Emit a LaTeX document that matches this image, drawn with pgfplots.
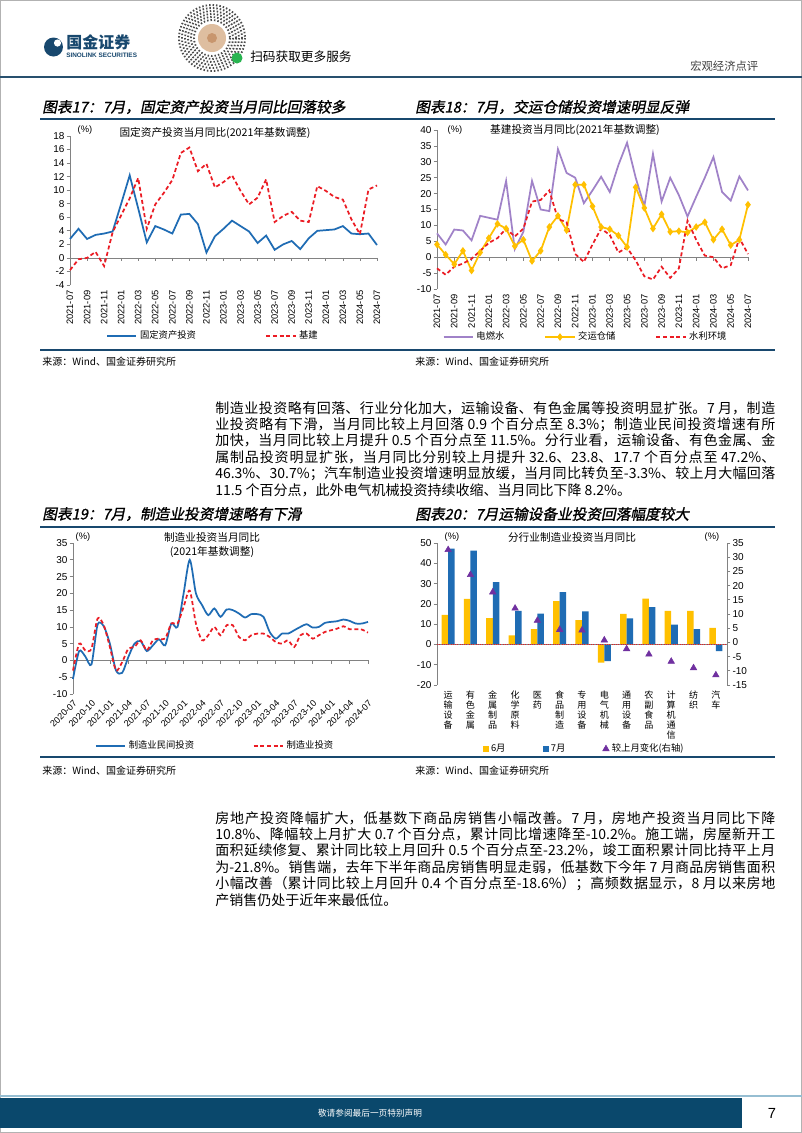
\documentclass[border=0pt]{standalone}
\usepackage{fontspec}
\setmainfont{Liberation Sans}
\newfontfamily\cjk{Noto Sans CJK SC}
\newfontfamily\cjkt[FakeSlant=0.2,FakeBold=1.2]{Noto Sans CJK SC}
\usepackage{pgfplots}
\usepackage{pgfplotstable}
\pgfplotsset{compat=1.18}
\XeTeXlinebreaklocale "zh"
\XeTeXlinebreakskip=0pt plus 2pt

\definecolor{cblue}{RGB}{31,108,180}
\definecolor{cred}{RGB}{235,28,36}
\definecolor{cpurple}{RGB}{160,130,200}
\definecolor{cyellow}{RGB}{255,192,0}
\definecolor{ctri}{RGB}{112,48,160}
\definecolor{navy}{RGB}{24,72,110}
\definecolor{axgray}{RGB}{130,130,130}
\definecolor{foot}{RGB}{10,72,108}
\definecolor{qrtan}{RGB}{222,190,160}
\definecolor{qrbrown}{RGB}{200,150,110}
\definecolor{qrgreen}{RGB}{40,180,80}
\definecolor{hdrline}{RGB}{40,80,110}
\definecolor{footline}{RGB}{150,190,210}

\pgfplotstableread{
i fai infra
0 2.8 -1.8
1 4.3 -0.2
2 2.8 0.0
3 3.4 0.9
4 3.6 -1.2
5 3.9 3.8
6 8.0 6.3
7 12.2 8.8
8 7.3 11.8
9 2.3 4.3
10 4.7 7.9
11 4.2 9.6
12 3.6 11.5
13 6.4 15.5
14 6.5 16.3
15 5.0 12.8
16 0.8 13.9
17 3.2 10.4
18 4.3 11.2
19 5.5 12.2
20 4.7 9.9
21 3.9 7.9
22 2.2 8.9
23 3.3 11.6
24 1.2 5.3
25 2.0 6.2
26 2.5 6.8
27 1.3 5.5
28 2.9 5.3
29 4.0 10.6
30 4.1 9.9
31 4.2 9.0
32 4.7 8.6
33 3.6 5.7
34 3.5 3.5
35 3.6 10.1
36 1.9 10.7
}\tabA

\pgfplotstableread{
i pw tr wa
0 7.5 4.0 -3.5
1 4.0 0.8 -5.5
2 8.7 -2.2 -3.0
3 8.4 2.0 -2.0
4 5.3 -4.2 -0.5
5 13.0 1.5 2.0
6 12.4 6.0 4.5
7 11.8 10.5 6.0
8 24.0 9.0 9.0
9 2.5 3.5 6.5
10 8.0 5.5 9.0
11 24.0 -1.2 17.5
12 15.0 2.0 18.0
13 14.5 9.5 21.0
14 34.0 13.0 12.0
15 26.5 8.5 11.0
16 25.0 22.8 1.0
17 17.0 22.8 -1.5
18 21.0 16.0 4.0
19 25.3 9.5 9.0
20 20.5 8.8 7.0
21 29.0 6.8 1.5
22 36.0 3.2 3.0
23 25.0 22.0 -1.0
24 16.0 15.5 -6.0
25 32.5 9.0 -7.0
26 17.5 13.5 -3.0
27 25.0 8.0 -6.5
28 19.5 8.2 -3.5
29 12.8 7.8 11.5
30 19.0 9.5 5.5
31 25.0 11.0 0.5
32 31.5 5.5 0.0
33 20.5 8.8 -3.5
34 17.8 3.8 -2.5
35 25.4 5.5 6.0
36 21.0 16.5 1.0
}\tabB

\pgfplotstableread{
i pri mfg
0 -5.5 -3.0
1 2.8 5.0
2 1.2 3.0
3 -1.2 3.5
4 10.7 12.5
5 10.2 10.5
6 5.0 4.0
7 -3.0 -3.0
8 -3.7 -0.5
9 1.0 3.5
10 5.0 4.0
11 5.8 6.0
12 2.8 3.0
13 4.5 6.0
14 6.3 6.5
15 4.5 6.5
16 11.0 11.0
17 10.0 11.0
18 20.0 16.0
19 30.0 20.8
20 20.0 11.0
21 16.5 6.0
22 13.5 7.5
23 15.5 10.0
24 13.0 7.5
25 15.2 10.5
26 15.0 10.5
27 14.0 7.0
28 12.8 6.0
29 13.8 7.5
30 13.8 8.0
31 13.0 8.0
32 8.5 7.0
33 6.5 5.5
34 8.0 5.0
35 8.0 6.0
36 9.0 4.0
37 10.0 7.5
38 10.8 8.0
39 9.8 6.5
40 10.0 7.5
41 11.2 8.5
42 11.5 9.0
43 11.7 9.5
44 12.2 10.2
45 11.8 9.3
46 11.0 9.3
47 11.0 9.2
48 11.5 8.3
}\tabC

\pgfplotstableread{
i jun jul chg
0 14.6 47.2 32.6
1 22.5 46.3 23.8
2 13.0 30.7 17.7
3 4.5 16.5 12.0
4 7.5 15.2 7.7
5 21.3 25.8 4.5
6 12.0 16.3 4.3
7 -9.0 -8.2 0.8
8 15.1 12.8 -2.3
9 22.6 18.4 -4.2
10 16.5 9.8 -6.7
11 16.6 7.6 -9.0
12 8.2 -3.3 -11.5
}\tabD

\pgfplotsset{
  pg/.style={scale only axis, anchor=south west,
    axis line style={draw=axgray},
    tick style={draw=axgray, line width=0.5pt},
    tick align=outside, major tick length=2.5pt,
    axis y line*=left, axis x line*=bottom,
    x axis line style={draw=none}, xtick style={draw=none},
    yticklabel style={font=\fontsize{7.5}{8}\selectfont, inner sep=1.5pt},
    xticklabel style={font=\fontsize{7}{8}\selectfont, inner sep=1.5pt},
    /pgf/number format/assume math mode=true,
    clip=false,
    legend style={draw=none, fill=none, font=\fontsize{7}{8}\selectfont\cjk, legend columns=-1, anchor=center, inner sep=1pt},
    legend cell align=left,
    legend image code/.code={\draw[mark repeat=2,mark phase=2,##1] plot coordinates {(0pt,0pt) (11pt,0pt) (22pt,0pt)};},
  },
  sqlegend/.style={legend image code/.code={\draw[##1] plot coordinates {(3pt,0pt)};}},
  monthsA/.style={xmin=0, xmax=36, xtick={0,2,...,36},
    xticklabels={2021-07,2021-09,2021-11,2022-01,2022-03,2022-05,2022-07,2022-09,2022-11,2023-01,2023-03,2023-05,2023-07,2023-09,2023-11,2024-01,2024-03,2024-05,2024-07},
    xticklabel style={rotate=90, anchor=east}},
}

\begin{document}
\begin{tikzpicture}
\useasboundingbox (0pt,0pt) rectangle (601.5pt,-849.75pt);
\begin{scope}[x=0.75pt,y=-0.75pt]
\fill[white] (0,0) rectangle (802,1133);
\draw[gray!60, line width=0.6pt] (0.4,0.4) rectangle (801.6,1132.6);
% header
\fill[navy] (53.5,47) circle (9.5);
\fill[white] (57.5,43) circle (3.6);
\node[anchor=west, inner sep=0pt, text=navy, font=\fontsize{12}{12}\selectfont\cjk\bfseries] at (66,42) {国金证券};
\node[anchor=west, inner sep=0pt, text=navy, font=\fontsize{4.8}{5}\selectfont\bfseries] at (66,55) {SINOLINK SECURITIES};
\foreach \r in {18,21,...,33} {\draw[black!70, line width=1.4pt, dash pattern=on 1.1pt off 1.5pt] (212,38) circle (\r);}
\fill[white] (212,38) circle (16);
\fill[qrtan] (212,38) circle (14);
\fill[qrbrown] (212,38) circle (5);
\fill[qrgreen] (237,58) circle (5.5);
\node[anchor=west, inner sep=0pt, font=\fontsize{9.5}{10}\selectfont\cjk] at (250,57) {扫码获取更多服务};
\node[anchor=west, inner sep=0pt, text=black!75, font=\fontsize{8.5}{9}\selectfont\cjk] at (690,66) {宏观经济点评};
\draw[hdrline, line width=1pt] (0,77) -- (802,77);
% section titles
\node[anchor=west, inner sep=0pt, font=\fontsize{11}{11}\selectfont\cjkt] at (42,107) {图表17：7月，固定资产投资当月同比回落较多};
\node[anchor=west, inner sep=0pt, font=\fontsize{11}{11}\selectfont\cjkt] at (415,107) {图表18：7月，交运仓储投资增速明显反弹};
\draw[navy, line width=1.2pt] (40,119) -- (775,119);
\draw[navy, line width=1.2pt] (40,350) -- (775,350);
\node[anchor=west, inner sep=0pt, font=\fontsize{7.5}{8}\selectfont\cjk] at (42,362) {来源：Wind、国金证券研究所};
\node[anchor=west, inner sep=0pt, font=\fontsize{7.5}{8}\selectfont\cjk] at (415,362) {来源：Wind、国金证券研究所};
% chart inner titles
\node[font=\fontsize{7}{8}\selectfont] at (85,130) {(\%)};
\node[font=\fontsize{8}{9}\selectfont\cjk] at (215,133) {固定资产投资当月同比(2021年基数调整)};
\node[font=\fontsize{7}{8}\selectfont] at (455,130) {(\%)};
\node[font=\fontsize{8}{9}\selectfont\cjk] at (575,130) {基建投资当月同比(2021年基数调整)};
% paragraph 1
\node[anchor=north west, inner sep=0pt, text width=420pt, align=justify, font=\fontsize{10.5}{12.3}\selectfont\cjk] at (215,401) {制造业投资略有回落、行业分化加大，运输设备、有色金属等投资明显扩张。7 月，制造\linebreak 业投资略有下滑，当月同比较上月回落 0.9 个百分点至 8.3\%；制造业民间投资增速有所\linebreak 加快，当月同比较上月提升 0.5 个百分点至 11.5\%。分行业看，运输设备、有色金属、金\linebreak 属制品投资明显扩张，当月同比分别较上月提升 32.6、23.8、17.7 个百分点至 47.2\%、\linebreak 46.3\%、30.7\%；汽车制造业投资增速明显放缓，当月同比转负至-3.3\%、较上月大幅回落\linebreak 11.5 个百分点，此外电气机械投资持续收缩、当月同比下降 8.2\%。};
% second row
\node[anchor=west, inner sep=0pt, font=\fontsize{11}{11}\selectfont\cjkt] at (42,514) {图表19：7月，制造业投资增速略有下滑};
\node[anchor=west, inner sep=0pt, font=\fontsize{11}{11}\selectfont\cjkt] at (415,514) {图表20：7月运输设备业投资回落幅度较大};
\draw[navy, line width=1.2pt] (40,527) -- (775,527);
\draw[navy, line width=1.2pt] (40,757) -- (775,757);
\node[anchor=west, inner sep=0pt, font=\fontsize{7.5}{8}\selectfont\cjk] at (42,771) {来源：Wind、国金证券研究所};
\node[anchor=west, inner sep=0pt, font=\fontsize{7.5}{8}\selectfont\cjk] at (415,771) {来源：Wind、国金证券研究所};
\node[font=\fontsize{7}{8}\selectfont] at (83,537) {(\%)};
\node[font=\fontsize{8}{9}\selectfont\cjk] at (212,537) {制造业投资当月同比};
\node[font=\fontsize{8}{9}\selectfont\cjk] at (212,552) {(2021年基数调整)};
\node[font=\fontsize{7}{8}\selectfont] at (452,537) {(\%)};
\node[font=\fontsize{7}{8}\selectfont] at (712,537) {(\%)};
\node[font=\fontsize{8}{9}\selectfont\cjk] at (572,537) {分行业制造业投资当月同比};
% paragraph 2
\node[anchor=north west, inner sep=0pt, text width=420pt, align=justify, font=\fontsize{10.5}{12.3}\selectfont\cjk] at (215,811) {房地产投资降幅扩大，低基数下商品房销售小幅改善。7 月，房地产投资当月同比下降\linebreak 10.8\%、降幅较上月扩大 0.7 个百分点，累计同比增速降至-10.2\%。施工端，房屋新开工\linebreak 面积延续修复、累计同比较上月回升 0.5 个百分点至-23.2\%，竣工面积累计同比持平上月\linebreak 为-21.8\%。销售端，去年下半年商品房销售明显走弱，低基数下今年 7 月商品房销售面积\linebreak 小幅改善（累计同比较上月回升 0.4 个百分点至-18.6\%）；高频数据显示，8 月以来房地\linebreak 产销售仍处于近年来最低位。};
% footer
\draw[footline, line width=0.8pt] (0,1096) -- (802,1096);
\fill[foot] (0,1098) rectangle (742,1128);
\node[text=white, font=\fontsize{6.5}{7}\selectfont\cjk] at (370,1113) {敬请参阅最后一页特别声明};
\node[font=\fontsize{11}{11}\selectfont] at (772,1113) {7};
\end{scope}

% ---------- Chart 17 ----------
\begin{axis}[pg, monthsA, at={(52.5pt,-213.75pt)}, width=230.25pt, height=111.75pt,
  ymin=-4, ymax=18, ytick={-4,-2,...,18},
  legend style={at={(0.467,-0.342)}, /tikz/every even column/.append style={column sep=50pt}}]
\draw[axgray, line width=0.5pt] (axis cs:0,0) -- (axis cs:36,0);
\pgfplotsinvokeforeach{0,2,...,36}{\draw[axgray, line width=0.5pt] (axis cs:#1,0) -- ([yshift=-2.5pt]axis cs:#1,0);}
\addplot[cblue, line width=1.3pt] table[x=i, y=fai] {\tabA};
\addlegendentry{固定资产投资}
\addplot[cred, line width=1.3pt, dash pattern=on 3pt off 2pt] table[x=i, y=infra] {\tabA};
\addlegendentry{基建}
\end{axis}

% ---------- Chart 18 ----------
\begin{axis}[pg, monthsA, at={(327.75pt,-216.75pt)}, width=233.25pt, height=119.25pt,
  ymin=-10, ymax=40, ytick={-10,-5,...,40},
  legend style={at={(0.479,-0.302)}, /tikz/every even column/.append style={column sep=28pt}}]
\draw[axgray, line width=0.5pt] (axis cs:0,0) -- (axis cs:36,0);
\pgfplotsinvokeforeach{0,2,...,36}{\draw[axgray, line width=0.5pt] (axis cs:#1,0) -- ([yshift=-2.5pt]axis cs:#1,0);}
\addplot[cpurple, line width=1.3pt] table[x=i, y=pw] {\tabB};
\addlegendentry{电燃水}
\addplot[cyellow, line width=1.3pt, mark=diamond*, mark size=1.8pt] table[x=i, y=tr] {\tabB};
\addlegendentry{交运仓储}
\addplot[cred, line width=1.3pt, dash pattern=on 3pt off 2pt] table[x=i, y=wa] {\tabB};
\addlegendentry{水利环境}
\end{axis}

% ---------- Chart 19 ----------
\begin{axis}[pg, at={(54.75pt,-520.5pt)}, width=221.25pt, height=113.25pt,
  xmin=0, xmax=48, xtick={0,3,...,48},
  xticklabels={2020-07,2020-10,2021-01,2021-04,2021-07,2021-10,2022-01,2022-04,2022-07,2022-10,2023-01,2023-04,2023-07,2023-10,2024-01,2024-04,2024-07},
  xticklabel style={rotate=45, anchor=north east, font=\fontsize{6.8}{7}\selectfont, inner sep=1pt},
  ymin=-10, ymax=35, ytick={-10,-5,...,35},
  legend style={at={(0.483,-0.344)}, /tikz/every even column/.append style={column sep=42pt}}]
\draw[axgray, line width=0.5pt] (axis cs:0,0) -- (axis cs:48,0);
\pgfplotsinvokeforeach{0,3,...,48}{\draw[axgray, line width=0.5pt] (axis cs:#1,0) -- ([yshift=-2.5pt]axis cs:#1,0);}
\addplot[cblue, line width=1.3pt, smooth, tension=0.45] table[x=i, y=pri] {\tabC};
\addlegendentry{制造业民间投资}
\addplot[cred, line width=1.3pt, smooth, tension=0.45, dash pattern=on 3pt off 2pt] table[x=i, y=mfg] {\tabC};
\addlegendentry{制造业投资}
\end{axis}

% ---------- Chart 20 ----------
\begin{axis}[pg, at={(327.75pt,-513.75pt)}, width=217.5pt, height=106.5pt,
  xmin=-0.5, xmax=12.5, xtick={0,...,12},
  xticklabels={{运\\输\\设\\备},{有\\色\\金\\属},{金\\属\\制\\品},{化\\学\\原\\料},{医\\药},{食\\品\\制\\造},{专\\用\\设\\备},{电\\气\\机\\械},{通\\用\\设\\备},{农\\副\\食\\品},{计\\算\\机\\通\\信},{纺\\织},{汽\\车}},
  xticklabel style={align=center, anchor=north, font=\fontsize{6.8}{7.4}\selectfont\cjk, inner sep=2pt},
  ymin=-20, ymax=50, ytick={-20,-10,...,50}]
\addplot[ybar, bar width=4.9pt, bar shift=-2.45pt, fill=cyellow, draw=none] table[x=i, y=jun] {\tabD};
\addplot[ybar, bar width=4.9pt, bar shift=2.45pt, fill=cblue, draw=none] table[x=i, y=jul] {\tabD};
\draw[axgray, line width=0.5pt] (axis cs:-0.5,0) -- (axis cs:12.5,0);
\draw[cred, line width=0.7pt, densely dotted] (axis cs:-0.5,0) -- (axis cs:12.5,0);
\end{axis}
\begin{axis}[pg, sqlegend, at={(327.75pt,-513.75pt)}, width=217.5pt, height=106.5pt,
  xmin=-0.5, xmax=12.5, axis y line*=right, axis x line=none,
  ymin=-15, ymax=35, ytick={-15,-10,...,35},
  yticklabel style={anchor=west},
  legend style={at={(0.509,-0.45)}, /tikz/every even column/.append style={column sep=26pt}}]
\addlegendimage{only marks, mark=square*, mark size=2pt, color=cyellow}
\addlegendentry{6月}
\addlegendimage{only marks, mark=square*, mark size=2pt, color=cblue}
\addlegendentry{7月}
\addplot[only marks, mark=triangle*, mark size=2.8pt, color=ctri] table[x=i, y=chg] {\tabD};
\addlegendentry{较上月变化(右轴)}
\end{axis}
\end{tikzpicture}
\end{document}
